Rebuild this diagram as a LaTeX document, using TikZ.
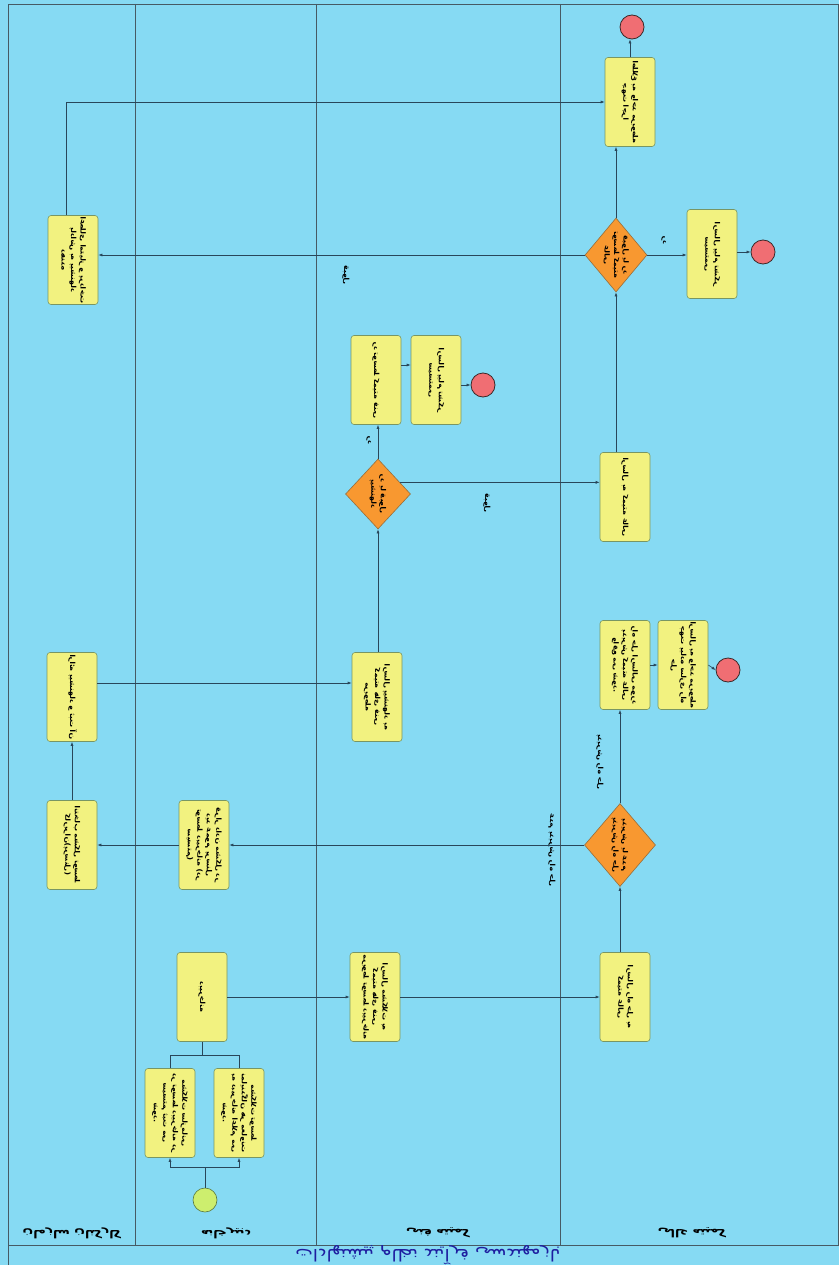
\documentclass[tikz,border=0pt]{standalone}
\usepackage{fontspec}
\usepackage{graphicx}
\usetikzlibrary{shapes.geometric,arrows.meta,calc}
\TeXXeTstate=1
\newfontfamily\arabicfont[Script=Arabic]{DejaVu Sans}
\newcommand\RL[1]{\beginR #1\endR}
\newcommand\vtxt[1]{\rotatebox{-90}{\scalebox{-1.1}[1]{\arabicfont\bfseries\fontsize{7}{9.5}\selectfont\begin{tabular}{@{}c@{}}#1\end{tabular}}}}
\newcommand\htxt[1]{\scalebox{1.25}[-1.1]{\arabicfont\RL{#1}}}
\definecolor{bgc}{RGB}{134,218,243}
\definecolor{taskf}{RGB}{242,242,128}
\definecolor{taskb}{RGB}{120,150,100}
\definecolor{gwf}{RGB}{248,152,48}
\definecolor{gwb}{RGB}{150,110,60}
\definecolor{stf}{RGB}{205,238,110}
\definecolor{stb}{RGB}{90,120,60}
\definecolor{enf}{RGB}{240,110,115}
\definecolor{enb}{RGB}{60,40,40}
\definecolor{linec}{RGB}{40,70,90}
\definecolor{lanec}{RGB}{70,90,100}
\definecolor{titlec}{RGB}{30,30,160}
\begin{document}
\begin{tikzpicture}[x=1pt,y=-1pt,
  task/.style={draw=taskb,fill=taskf,rounded corners=3pt,minimum width=50pt,minimum height=89pt,inner sep=0pt,line width=0.6pt},
  gw/.style={diamond,draw=gwb,fill=gwf,inner sep=0pt,line width=0.6pt},
  startev/.style={circle,draw=stb,fill=stf,minimum size=24pt,inner sep=0pt,line width=0.6pt},
  endev/.style={circle,draw=enb,fill=enf,minimum size=24pt,inner sep=0pt,line width=0.8pt},
  arr/.style={draw=linec,line width=0.6pt,-{Latex[length=4pt,width=3pt]}},
  ln/.style={draw=linec,line width=0.6pt},
  lbl/.style={inner sep=0pt}]
\useasboundingbox (0,0) rectangle (839,1265);
\fill[bgc] (0,0) rectangle (839,1265);
% frame and lanes
\draw[lanec,line width=0.6pt] (8,4) rectangle (838,1245);
\draw[lanec,line width=0.6pt] (8,1245) -- (8,1265);
\draw[lanec,line width=0.6pt] (135,4) -- (135,1245);
\draw[lanec,line width=0.6pt] (316,4) -- (316,1245);
\draw[lanec,line width=0.6pt] (560,4) -- (560,1245);
\node[lbl] (lane1) at (72,1233) {\htxt{\bfseries کارکنان سازمان}};
\node[lbl] (lane2) at (226,1233) {\htxt{\bfseries دبیرخانه}};
\node[lbl] (lane3) at (438,1233) {\htxt{\bfseries کمیته فنی}};
\node[lbl] (lane4) at (692,1233) {\htxt{\bfseries کمیته عالی}};
\node[lbl,text=titlec,scale=1.5] (title) at (428,1255) {\htxt{بازمهندسی فرآیند نظام پیشنهادات}};
% events
\node[startev] (start) at (205,1200) {};
\node[endev] (E1) at (483,385) {};
\node[endev] (E2) at (763,252) {};
\node[endev] (E3) at (632,27) {};
\node[endev] (E4) at (728,670) {};
% tasks
\node[task] (TA) at (170,1113) {\vtxt{\RL{مشکلات سازمانی}\\\RL{در توسط دبیرخانه در}\\\RL{سیستم ثبت می}\\\RL{شود.}}};
\node[task] (TB) at (239,1113) {\vtxt{\RL{مشکلات توسط}\\\RL{نمایندگان هر معاونت}\\\RL{به دبیرخانه اعلام می}\\\RL{شود.}}};
\node[task] (Tdab) at (202,997) {\vtxt{\RL{دبیرخانه}}};
\node[task] (Ttech) at (375,997) {\vtxt{\RL{ارسال مشکلات به}\\\RL{کمیته های فنی}\\\RL{مربوط توسط دبیرخانه}}};
\node[task] (Thigh1) at (625,997) {\vtxt{\RL{ارسال راه حل به}\\\RL{کمیته عالی}}};
\node[task] (Tpublic) at (204,845) {\vtxt{\RL{قرار دادن مشکل در}\\\RL{دید عموم پرسنل}\\\RL{توسط دبیرخانه (در}\\\RL{سیستم)}}};
\node[task] (Tselect) at (72,845) {\vtxt{\RL{انتخاب مشکل توسط}\\\RL{کاربران(پرسنل)}}};
\node[task] (Tpropose) at (72,697) {\vtxt{\RL{ارائه پیشنهاد و ثبت آن}}};
\node[task] (Tsend) at (377,697) {\vtxt{\RL{ارسال پیشنهاد به}\\\RL{کمیته های فنی}\\\RL{مربوطه}}};
\node[task] (Treject) at (376,380) {\vtxt{\RL{رد توسط کمیته فنی}}};
\node[task] (Tthanks1) at (436,380) {\vtxt{\RL{ارسال پیام تشکر}\\\RL{سیستمی}}};
\node[task] (Ttohigh) at (625,497) {\vtxt{\RL{ارسال به کمیته عالی}}};
\node[task] (Taccepted) at (625,665) {\vtxt{\RL{راه حل ارسالی مورد}\\\RL{پذیرش کمیته عالی}\\\RL{واقع می شود.}}};
\node[task] (Timpl) at (683,665) {\vtxt{\RL{ارسال به واحد مربوطه}\\\RL{جهت پیاده سازی راه}\\\RL{حل}}};
\node[task] (Treward) at (73,260) {\vtxt{\RL{اعطای امتیاز و پرداخت}\\\RL{پاداش به پیشنهاد}\\\RL{دهنده}}};
\node[task] (Tthanks2) at (712,254) {\vtxt{\RL{ارسال پیام تشکر}\\\RL{سیستمی}}};
\node[task] (Tinform) at (630,102) {\vtxt{\RL{اطلاع به واحد مربوطه}\\\RL{جهت اجرا}}};
% gateways
\node[gw,minimum width=71pt,minimum height=83pt] (G1) at (620,845) {};
\node[lbl] (G1t) at (G1) {\vtxt{\RL{پذیرش یا عدم}\\\RL{پذیرش راه حل}}};
\node[gw,minimum width=65pt,minimum height=70pt] (G2) at (378,494) {};
\node[lbl] (G2t) at (G2) {\vtxt{\RL{رد یا قبول}\\\RL{پیشنهاد}}};
\node[gw,minimum width=62pt,minimum height=74pt] (G3) at (616,255) {};
\node[lbl] (G3t) at (G3) {\vtxt{\RL{قبول یا رد}\\\RL{توسط کمیته}\\\RL{عالی}}};
% edge labels
\node[lbl] (Lno) at (552,850) {\vtxt{\RL{عدم پذیرش راه حل}}};
\node[lbl] (Lyes) at (600,762) {\vtxt{\RL{پذیرش راه حل}}};
\node[lbl] (Lrad1) at (370,440) {\vtxt{\RL{رد}}};
\node[lbl] (Lqab1) at (487,503) {\vtxt{\RL{قبول}}};
\node[lbl] (Lrad2) at (665,240) {\vtxt{\RL{رد}}};
\node[lbl] (Lqab2) at (346,275) {\vtxt{\RL{قبول}}};
% connectors
\draw[arr] (start.north) -- ++(0,-20) -| (TA.south);
\draw[arr] (start.north) -- ++(0,-20) -| (TB.south);
\draw[ln] (TA.north) -- ++(0,-13) -| (Tdab.south);
\draw[ln] (TB.north) -- ++(0,-13) -| (Tdab.south);
\draw[arr] (Tdab.east) -- (Ttech.west);
\draw[arr] (Ttech.east) -- (Thigh1.west);
\draw[arr] (G1.south |- Thigh1.north) -- (G1.south);
\draw[arr] (G1.west) -- (Tpublic.east);
\draw[arr] (G1.north) -- (G1.north |- Taccepted.south);
\draw[arr] (Taccepted.east) -- (Timpl.west);
\draw[arr] (Timpl.east) -- (E4.west);
\draw[arr] (Tpublic.west) -- (Tselect.east);
\draw[arr] (Tselect.north) -- (Tpropose.south);
\draw[arr] ([yshift=14pt]Tpropose.east) -- ([yshift=14pt]Tsend.west);
\draw[arr] (G2.south |- Tsend.north) -- (G2.south);
\draw[arr] (G2.north) -- (G2.north |- Treject.south);
\draw[arr] ([yshift=15pt]Treject.east) -- ([yshift=15pt]Tthanks1.east -| Tthanks1.west);
\draw[arr] (Tthanks1.east |- E1.west) -- (E1.west);
\coordinate (g2o) at ($(G2.north)!0.67!(G2.east)$);
\draw[arr] (g2o) -- (g2o -| Ttohigh.west);
\draw[arr] (G3.south |- Ttohigh.north) -- (G3.south);
\draw[arr] (G3.east) -- (G3.east -| Tthanks2.west);
\draw[arr] (Tthanks2.east |- E2.west) -- (E2.west);
\draw[arr] (G3.west) -- (G3.west -| Treward.east);
\draw[arr] (G3.north) -- (G3.north |- Tinform.south);
\draw[arr] ([xshift=-7pt]Treward.north) |- (Tinform.west);
\draw[arr] (Tinform.north) -- (Tinform.north |- E3.south);
\end{tikzpicture}
\end{document}
